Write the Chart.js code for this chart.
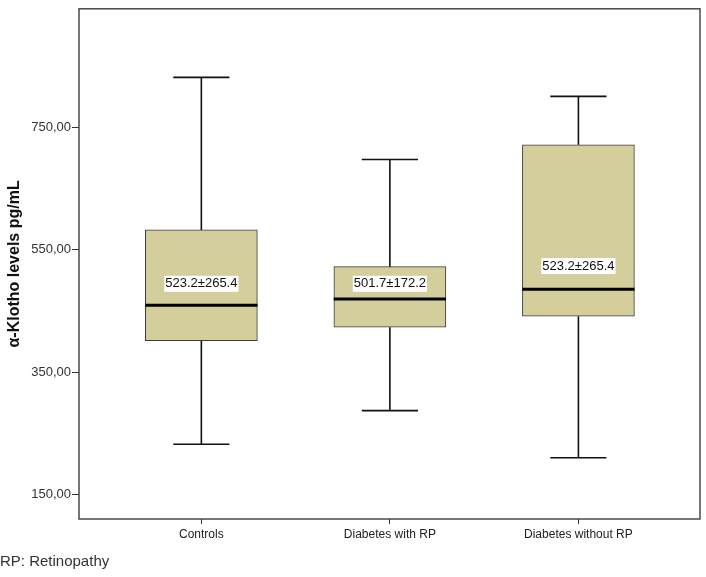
<!DOCTYPE html>
<html>
<head>
<meta charset="utf-8">
<script src="https://cdn.jsdelivr.net/npm/chart.js@4"></script>
<style>
  html, body { margin: 0; padding: 0; background: #fff; }
  #wrap { width: 706px; height: 577px; }
</style>
</head>
<body>
<div id="wrap"><canvas id="Box"></canvas></div>
<script>
// data
const categories = ['Controls', 'Diabetes with RP', 'Diabetes without RP'];
const whiskerLow = [232, 287, 210];
const q1 = [401, 423, 441];
const median = [459, 469, 485];
const q3 = [582, 522, 721];
const whiskerHigh = [831, 697, 800];
const meanText = ['523.2\u00b1265.4', '501.7\u00b1172.2', '523.2\u00b1265.4'];
const labelAt = [494, 494, 523];
const yTicks = [150, 350, 550, 750];

const FONT = "'Liberation Sans', Arial, sans-serif";
const boxFill = '#d3ce9b';

// whiskers, caps, median lines and the mean labels
const boxExtras = {
  id: 'boxExtras',
  afterDatasetsDraw(chart) {
    const ctx = chart.ctx;
    const xs = chart.scales.x, ys = chart.scales.y;
    ctx.save();
    for (let i = 0; i < categories.length; i++) {
      let cx = xs.getPixelForValue(i + 1);
      let capHalf = xs.getPixelForValue(i + 1 + 0.149) - cx;
      let boxHalf = xs.getPixelForValue(i + 1 + 0.298) - cx;

      ctx.strokeStyle = '#111';
      ctx.lineWidth = 1.6;
      ctx.beginPath();
      ctx.moveTo(cx, ys.getPixelForValue(q3[i]));
      ctx.lineTo(cx, ys.getPixelForValue(whiskerHigh[i]));
      ctx.moveTo(cx - capHalf, ys.getPixelForValue(whiskerHigh[i]));
      ctx.lineTo(cx + capHalf, ys.getPixelForValue(whiskerHigh[i]));
      ctx.moveTo(cx, ys.getPixelForValue(q1[i]));
      ctx.lineTo(cx, ys.getPixelForValue(whiskerLow[i]));
      ctx.moveTo(cx - capHalf, ys.getPixelForValue(whiskerLow[i]));
      ctx.lineTo(cx + capHalf, ys.getPixelForValue(whiskerLow[i]));
      ctx.stroke();

      ctx.strokeStyle = '#000';
      ctx.lineWidth = 3;
      ctx.beginPath();
      ctx.moveTo(cx - boxHalf, ys.getPixelForValue(median[i]));
      ctx.lineTo(cx + boxHalf, ys.getPixelForValue(median[i]));
      ctx.stroke();

      ctx.font = '13px ' + FONT;
      ctx.textAlign = 'center';
      ctx.textBaseline = 'middle';
      let ly = ys.getPixelForValue(labelAt[i]);
      let w = ctx.measureText(meanText[i]).width;
      ctx.fillStyle = '#fff';
      ctx.fillRect(cx - w / 2 - 1, ly - 8, w + 2, 16);
      ctx.fillStyle = '#111';
      ctx.fillText(meanText[i], cx, ly);
    }
    ctx.restore();
  },
  afterDraw(chart) {
    const a = chart.chartArea, ctx = chart.ctx;
    ctx.save();
    ctx.strokeStyle = '#4a4a4a';
    ctx.lineWidth = 1.5;
    ctx.strokeRect(a.left, a.top, a.right - a.left, a.bottom - a.top);
    ctx.restore();
  }
};

new Chart(document.getElementById('Box'), {
  type: 'bar',
  data: {
    datasets: [{
      data: categories.map((c, i) => ({ x: i + 1, y: [q1[i], q3[i]] })),
      backgroundColor: boxFill,
      borderColor: '#3c3c3c',
      borderWidth: 1,
      borderSkipped: false,
      barThickness: 112
    }]
  },
  options: {
    responsive: true,
    maintainAspectRatio: false,
    animation: false,
    layout: { padding: { left: 0, right: 6, top: 4, bottom: 0 } },
    scales: {
      x: {
        type: 'linear',
        offset: false,
        min: 0.351,
        max: 3.645,
        afterBuildTicks: (scale) => { scale.ticks = [1, 2, 3].map(v => ({ value: v })); },
        afterFit: (scale) => { scale.height = 32; },
        grid: { offset: false, drawOnChartArea: false, drawTicks: true, tickLength: 5, color: '#333' },
        border: { display: false },
        ticks: {
          padding: 3,
          maxRotation: 0,
          color: '#222',
          font: { family: FONT, size: 12 },
          callback: (v, i) => categories[i]
        }
      },
      y: {
        min: 110,
        max: 943,
        afterBuildTicks: (scale) => { scale.ticks = yTicks.map(v => ({ value: v })); },
        afterFit: (scale) => { scale.width = 79; },
        grid: { drawOnChartArea: false, drawTicks: true, tickLength: 7, color: '#333' },
        border: { display: false },
        ticks: {
          padding: 1,
          color: '#333',
          font: { family: FONT, size: 13 },
          callback: (v) => v.toFixed(2).replace('.', ',')
        },
        title: {
          display: true,
          text: '\u03b1-Klotho levels pg/mL',
          color: '#111',
          font: { family: FONT, size: 16, weight: 'bold' },
          padding: { top: 5, bottom: 0 }
        }
      }
    },
    plugins: {
      legend: { display: false },
      tooltip: { enabled: false },
      title: {
        display: true,
        text: 'RP: Retinopathy',
        position: 'bottom',
        align: 'start',
        color: '#333',
        font: { family: FONT, size: 15, weight: 'normal' },
        padding: { top: 2, bottom: 6 }
      }
    }
  },
  plugins: [boxExtras]
});
</script>
</body>
</html>
